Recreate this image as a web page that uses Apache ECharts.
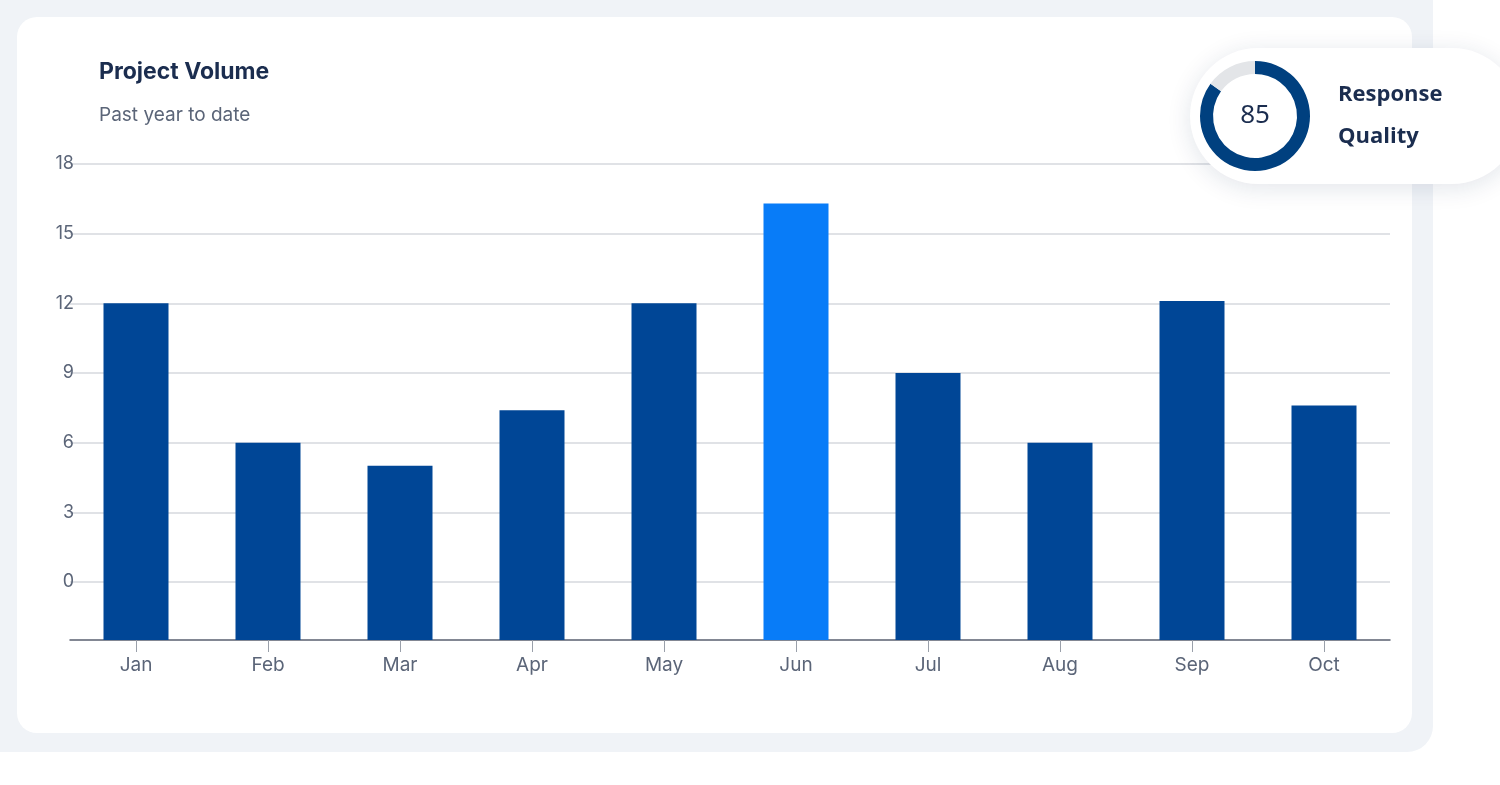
<!DOCTYPE html>
<html><head><meta charset="utf-8">
<script src="https://cdn.jsdelivr.net/npm/echarts@6/dist/echarts.min.js"></script>
<style>
html,body{margin:0;padding:0;width:1500px;height:785px;background:#fff;overflow:hidden;font-family:Inter,"Noto Sans",sans-serif}
#bg{position:absolute;left:0;top:0;width:1433px;height:752px;background:#f0f3f7;border-radius:0 0 26px 0}
#card{position:absolute;left:17px;top:17px;width:1395px;height:716px;background:#fff;border-radius:20px}
#c{position:absolute;left:0;top:0;width:1500px;height:785px}
</style></head><body>
<div id="bg"></div><div id="card"></div><div id="c"></div>
<script>
const categories=['Jan','Feb','Mar','Apr','May','Jun','Jul','Aug','Sep','Oct'];
const values=[12,6,5,7.4,12,16.3,9,6,12.1,7.6];
const tickLabels=[0,3,6,9,12,15,18];
const highlight='Jun';
const quality=85;
const base=2.5; // axis extends below zero
const chart=echarts.init(document.getElementById('c'));
chart.setOption({
  animation:false,
  title:[{text:'Project Volume',left:94,top:56,textStyle:{fontSize:23,fontWeight:'bold',color:'#1b2d4f',fontFamily:'Inter'}},
         {text:'Past year to date',left:94,top:101,textStyle:{fontSize:19,fontWeight:'normal',color:'#5b6578',fontFamily:'Inter'}}],
  grid:{left:70,right:110,top:164,bottom:145},
  xAxis:{type:'category',data:categories,
    axisLine:{lineStyle:{color:'#5a6070',width:1.5}},
    axisTick:{show:true,alignWithLabel:true,length:12,lineStyle:{color:'#9aa0aa'}},
    axisLabel:{color:'#5b6578',fontSize:19,margin:16,fontFamily:'Inter'}},
  yAxis:{type:'value',min:0,max:18+base,
    axisLine:{show:false},
    axisTick:{show:false,customValues:tickLabels.map(v=>v+base)},
    axisLabel:{customValues:tickLabels.map(v=>v+base),formatter:v=>String(Math.round(v-base)),color:'#5b6578',fontSize:18,fontFamily:'Inter',margin:0,align:'right',padding:[0,-4,0,0]},
    splitLine:{lineStyle:{color:'#d6d9de',width:1.5}}},
  series:[{type:'bar',barWidth:65,
    data:values.map((v,i)=>({value:v+base,itemStyle:{color:categories[i]===highlight?'#087cf8':'#004696'}}))},
   {type:'pie',center:[1255,116],radius:[42,55],startAngle:90,clockwise:true,silent:true,z:10,
    label:{show:false},labelLine:{show:false},
    data:[{value:quality,itemStyle:{color:'#00407f'}},{value:100-quality,itemStyle:{color:'#e3e5e8'}}]}],
  graphic:[
    {type:'rect',shape:{x:1190,y:48,width:330,height:136,r:68},z:5,
     style:{fill:'#fff',shadowBlur:24,shadowColor:'rgba(20,40,80,0.12)',shadowOffsetY:4}},
    {type:'text',x:1255,y:116,z:20,style:{text:String(quality),fontSize:26,fill:'#1b2d4f',align:'center',verticalAlign:'middle',fontFamily:'Noto Sans'}},
    {type:'text',x:1338,y:95,z:20,style:{text:'Response',fontSize:22,fontWeight:'bold',fill:'#1b2d4f',verticalAlign:'middle',fontFamily:'Open Sans'}},
    {type:'text',x:1338,y:137,z:20,style:{text:'Quality',fontSize:22,fontWeight:'bold',fill:'#1b2d4f',verticalAlign:'middle',fontFamily:'Open Sans'}}
  ]
});
</script></body></html>
